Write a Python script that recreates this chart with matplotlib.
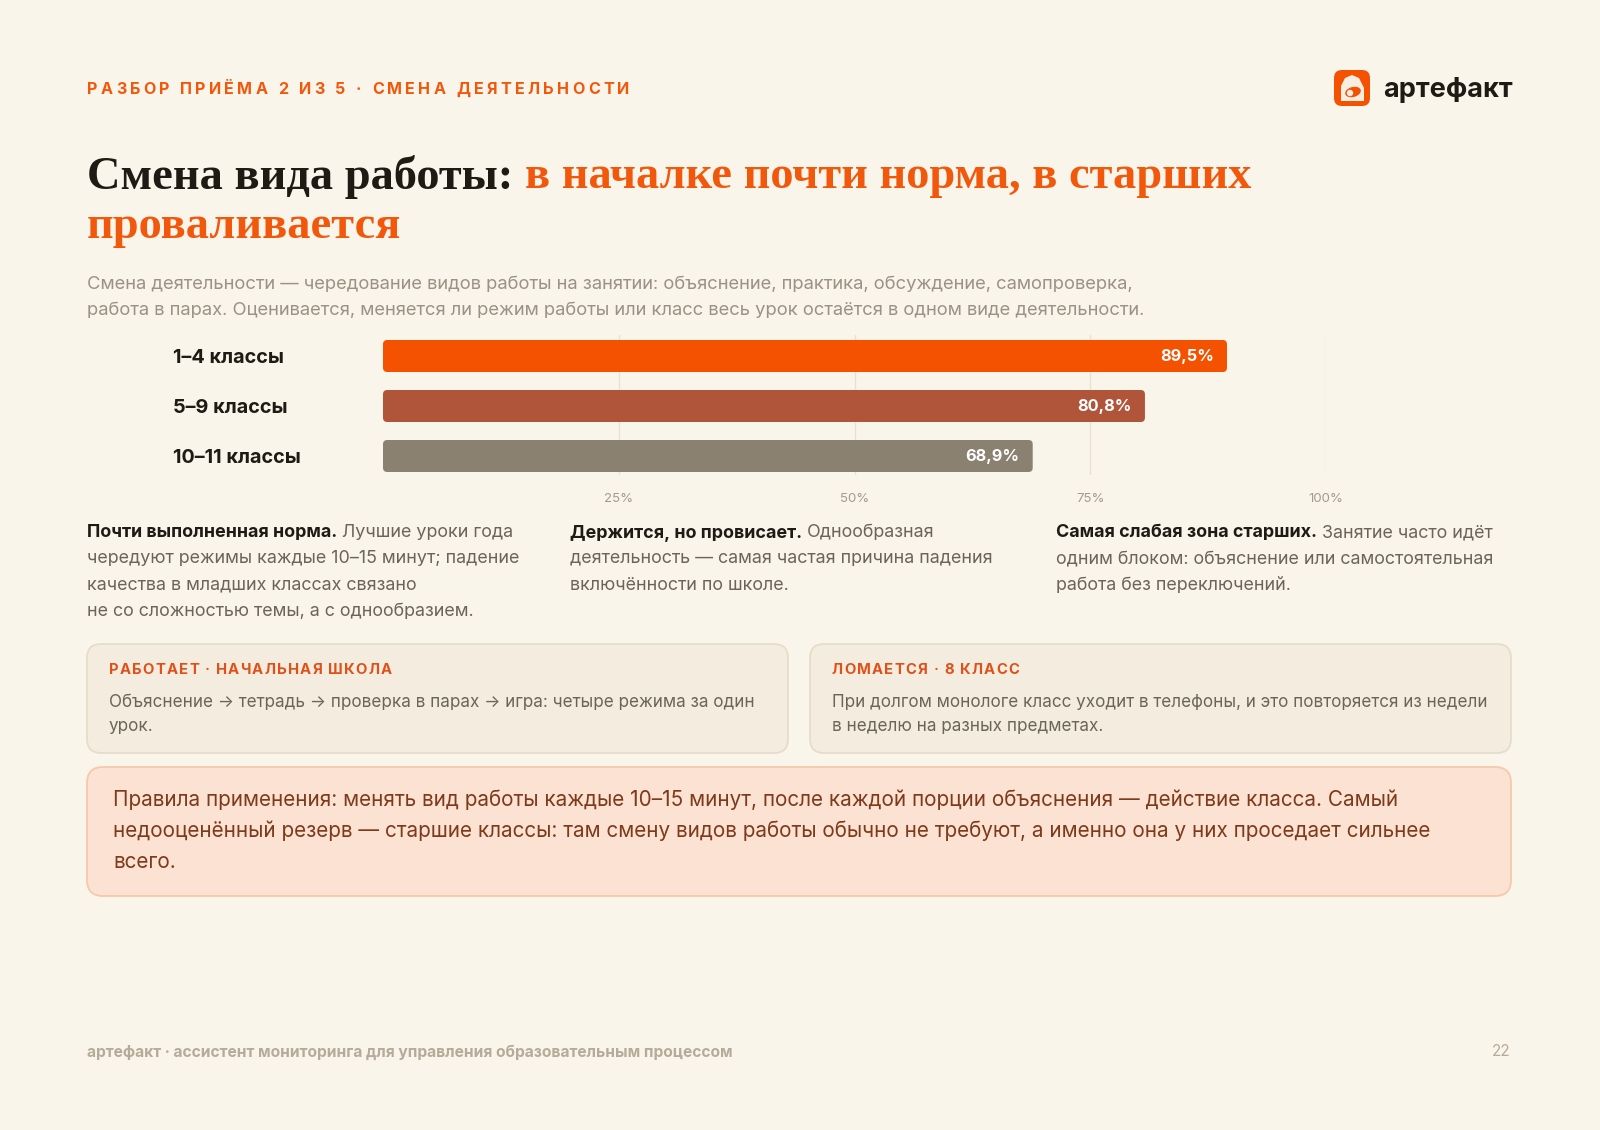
import matplotlib
matplotlib.use("Agg")
import matplotlib.pyplot as plt
from matplotlib.patches import FancyBboxPatch, Ellipse, Circle, Polygon

# data
categories = ["1–4 классы", "5–9 классы", "10–11 классы"]
values = [89.5, 80.8, 68.9]
value_labels = ["89,5%", "80,8%", "68,9%"]
bar_colors = ["#F45200", "#B0553A", "#8B8170"]
tick_values = [25, 50, 75, 100]
tick_labels = ["25%", "50%", "75%", "100%"]

BG = "#FAF5EA"
ORANGE = "#F2580C"
DARK = "#1F1A14"
GREY = "#9A9285"
BODY = "#6B6459"
SANS = ["Inter", "DejaVu Sans"]
SERIF = ["Liberation Serif", "DejaVu Serif"]

plt.rcParams["font.family"] = SANS

fig = plt.figure(figsize=(16, 11.3), dpi=100, facecolor=BG)
bg = fig.add_axes([0, 0, 1, 1])
bg.set_xlim(0, 1600)
bg.set_ylim(1130, 0)
bg.axis("off")
bg.set_zorder(0)
r = fig.canvas.get_renderer()


def width_of(s, **kw):
    t = bg.text(0, 0, s, **kw)
    w = t.get_window_extent(r).width
    t.remove()
    return w


def run(parts, x, y, **kw):
    # draw text pieces side by side on one line
    for s, props in parts:
        t = bg.text(x, y, s, va="center", **kw, **props)
        x += t.get_window_extent(r).width
    return x


def tracked(s, x, y, spacing, **kw):
    sp = width_of("a a", **kw) - width_of("aa", **kw)
    for ch in s:
        if ch == " ":
            x += sp + spacing
            continue
        t = bg.text(x, y, ch, va="center", **kw)
        x += t.get_window_extent(r).width + spacing


# header
tracked("РАЗБОР ПРИЁМА 2 ИЗ 5 · СМЕНА ДЕЯТЕЛЬНОСТИ", 87, 89, 3.3,
        fontsize=11.6, fontweight="bold", color=ORANGE)

# logo
bg.add_patch(FancyBboxPatch((1334, 70), 36, 36, boxstyle="round,pad=0,rounding_size=8",
                            fc="#F45200", ec="none"))
bg.add_patch(Polygon([(1341, 101), (1341, 86), (1345, 78), (1352, 75), (1359, 78),
                      (1364, 88), (1364, 101)], closed=True, fc="#F7EEE3", ec="none"))
bg.add_patch(Ellipse((1353, 92), 16, 10, angle=-15, fc="#F45200", ec="none"))
bg.add_patch(Circle((1350, 93), 3.2, fc="#F7EEE3", ec="none"))
bg.text(1383, 90, "артефакт", fontsize=19.5, fontweight="bold", color=DARK, va="center")

# title
TS = 33.4
sep = width_of("a a", fontsize=TS, fontweight="bold", family=SERIF) - \
    width_of("aa", fontsize=TS, fontweight="bold", family=SERIF)
x = run([("Смена вида работы:", dict(color=DARK))], 87, 177,
        fontsize=TS, fontweight="bold", family=SERIF)
run([("в началке почти норма, в старших", dict(color=ORANGE))], x + sep, 177,
    fontsize=TS, fontweight="bold", family=SERIF)
bg.text(87, 227, "проваливается", fontsize=TS, fontweight="bold", family=SERIF,
        color=ORANGE, va="center")

# subtitle
bg.text(87, 284, "Смена деятельности — чередование видов работы на занятии: объяснение, практика, "
        "обсуждение, самопроверка,", fontsize=13.25, color=GREY, va="center")
bg.text(87, 311, "работа в парах. Оценивается, меняется ли режим работы или класс весь урок "
        "остаётся в одном виде деятельности.", fontsize=13.25, color=GREY, va="center")

# chart
ax = fig.add_axes([383 / 1600, 1 - 475 / 1130, 943 / 1600, 140 / 1130])
ax.set_facecolor("none")
ax.set_zorder(2)
ax.set_xlim(0, 100)
ax.set_ylim(2.38, -0.42)
bars = ax.barh(range(len(categories)), values, height=0.64, color=bar_colors)
for b in bars:
    b.set_visible(False)
    ax.add_patch(FancyBboxPatch((b.get_x(), b.get_y()), b.get_width(), b.get_height(),
                                boxstyle="round,pad=0,rounding_size=0.45",
                                mutation_aspect=0.19, fc=b.get_facecolor(), ec="none",
                                zorder=3))
for i, (v, lab) in enumerate(zip(values, value_labels)):
    ax.text(v - 1.4, i, lab, ha="right", va="center", color="white",
            fontsize=11.8, fontweight="bold", zorder=4)
ax.set_xticks(tick_values, tick_labels)
ax.xaxis.grid(True, color="#E9E2D2", linewidth=1)
ax.set_axisbelow(True)
ax.tick_params(axis="x", length=0, pad=13, labelsize=9.5, labelcolor="#A39B8C")
ax.set_yticks(range(len(categories)), categories)
ax.tick_params(axis="y", length=0, pad=151, labelsize=14.3, labelcolor=DARK)
for t in ax.get_yticklabels():
    t.set_ha("left")
    t.set_fontweight("bold")
for s in ax.spines.values():
    s.set_visible(False)

# three notes
NS = 12.9
notes = [
    (87, "Почти выполненная норма.", ["Лучшие уроки года",
                                      "чередуют режимы каждые 10–15 минут; падение",
                                      "качества в младших классах связано",
                                      "не со сложностью темы, а с однообразием."]),
    (570, "Держится, но провисает.", ["Однообразная",
                                      "деятельность — самая частая причина падения",
                                      "включённости по школе."]),
    (1056, "Самая слабая зона старших.", ["Занятие часто идёт",
                                         "одним блоком: объяснение или самостоятельная",
                                         "работа без переключений."]),
]
for nx, lead, lines in notes:
    sp = width_of("a a", fontsize=NS) - width_of("aa", fontsize=NS)
    x = run([(lead, dict(color=DARK, fontweight="bold"))], nx, 533, fontsize=NS)
    run([(lines[0], dict(color=BODY))], x + sp, 533, fontsize=NS)
    for k, ln in enumerate(lines[1:]):
        bg.text(nx, 559 + 26.3 * k, ln, fontsize=NS, color=BODY, va="center")

# cards
cards = [
    (87, "РАБОТАЕТ · НАЧАЛЬНАЯ ШКОЛА",
     ["Объяснение → тетрадь → проверка в парах → игра: четыре режима за один", "урок."]),
    (810, "ЛОМАЕТСЯ · 8 КЛАСС",
     ["При долгом монологе класс уходит в телефоны, и это повторяется из недели",
      "в неделю на разных предметах."]),
]
for cx, head, lines in cards:
    bg.add_patch(FancyBboxPatch((cx, 644), 701, 109, boxstyle="round,pad=0,rounding_size=14",
                                fc="#F4EDDF", ec="#E6DDC9", lw=1.3))
    tracked(head, cx + 22, 670, 1.2, fontsize=10.7, fontweight="bold", color="#E0501A")
    for k, ln in enumerate(lines):
        bg.text(cx + 22, 702 + 25 * k, ln, fontsize=12.3, color=BODY, va="center")

# rules box
bg.add_patch(FancyBboxPatch((87, 767), 1424, 129, boxstyle="round,pad=0,rounding_size=16",
                            fc="#FBE2D2", ec="#F6C9A9", lw=1.3))
rules = ["Правила применения: менять вид работы каждые 10–15 минут, после каждой порции "
         "объяснения — действие класса. Самый",
         "недооценённый резерв — старшие классы: там смену видов работы обычно не требуют, "
         "а именно она у них проседает сильнее",
         "всего."]
for k, ln in enumerate(rules):
    bg.text(113, 800 + 31 * k, ln, fontsize=14.9, color="#7E3A1B", va="center")

# footer
bg.text(87, 1052, "артефакт · ассистент мониторинга для управления образовательным процессом",
        fontsize=11.2, fontweight="bold", color="#B4AC98", va="center")
bg.text(1511, 1052, "22", fontsize=11, color="#B4AC98", va="center", ha="right")

fig.savefig("out.png", dpi=100, facecolor=BG)
